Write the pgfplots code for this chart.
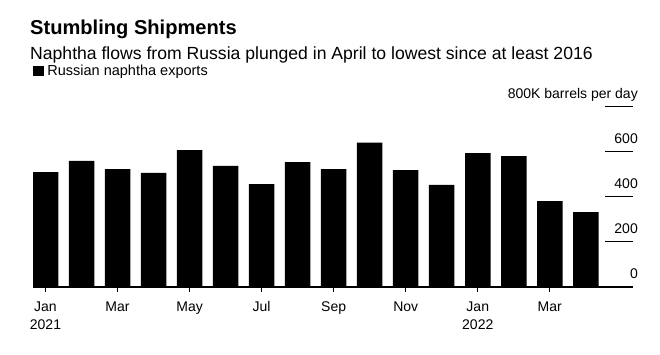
\documentclass[border=0pt]{standalone}
\usepackage{fontspec}
\setmainfont{Liberation Sans}
\usepackage{pgfplots}
\pgfplotsset{compat=1.18}
\definecolor{baseline}{RGB}{140,140,140}
\begin{document}
\begin{tikzpicture}[x=1pt,y=1pt]
\begin{axis}[
  at={(33pt,68pt)}, anchor=south west,
  scale only axis, width=600pt, height=181pt,
  xmin=-0.347, xmax=16.31, ymin=0, ymax=800,
  ybar, bar width=25.5pt,
  axis x line*=bottom, axis y line*=right,
  x axis line style={baseline, line width=1.4pt},
  y axis line style={draw=none},
  xtick={0,2,...,14},
  xticklabels={\strut Jan\\2021,\strut Mar,\strut May,\strut Jul,\strut Sep,\strut Nov,\strut Jan\\2022,\strut Mar},
  xticklabel style={align=center, anchor=north, inner sep=0pt, yshift=-6pt, font=\fontsize{14}{18.3}\selectfont},
  tick align=outside, major tick length=5pt,
  xtick style={black, line width=0.7pt},
  ytick={0,200,400,600,800},
  yticklabels={0,200,400,600,800K barrels per day},
  yticklabel pos=right,
  ytick style={draw=none},
  yticklabel style={anchor=base east, inner sep=0pt, yshift=8pt, xshift=0pt, font=\fontsize{14}{16}\selectfont},
  legend style={draw=none, fill=none, at={(0,1.193)}, anchor=west, inner sep=0pt, nodes={inner sep=0pt}, font=\fontsize{14.5}{16}\selectfont, cells={anchor=west}, /tikz/every odd column/.append style={column sep=3.5pt}},
  legend image code/.code={\fill[black] (0pt,-5pt) rectangle (10.7pt,5pt);},
]
\addplot[fill=black, draw=none] coordinates {
 (0,508) (1,557) (2,521) (3,504) (4,605) (5,535) (6,455) (7,552)
 (8,521) (9,638) (10,517) (11,451) (12,592) (13,579) (14,380) (15,331)};
\addlegendentry{Russian naphtha exports}
\draw[black, line width=0.9pt] (axis cs:15.54,200) -- (axis cs:16.31,200);
\draw[black, line width=0.9pt] (axis cs:15.54,400) -- (axis cs:16.31,400);
\draw[black, line width=0.9pt] (axis cs:15.54,600) -- (axis cs:16.31,600);
\draw[black, line width=0.9pt] (axis cs:15.54,800) -- (axis cs:16.31,800);
\end{axis}
\node[anchor=base west, inner sep=0pt, font=\bfseries\fontsize{20.1}{23}\selectfont] at (30pt,320pt) {Stumbling Shipments};
\node[anchor=base west, inner sep=0pt, font=\fontsize{17.6}{20}\selectfont] at (30pt,295pt) {Naphtha flows from Russia plunged in April to lowest since at least 2016};
\pgfresetboundingbox
\path[use as bounding box] (0,0) rectangle (660pt,355pt);
\end{tikzpicture}
\end{document}
